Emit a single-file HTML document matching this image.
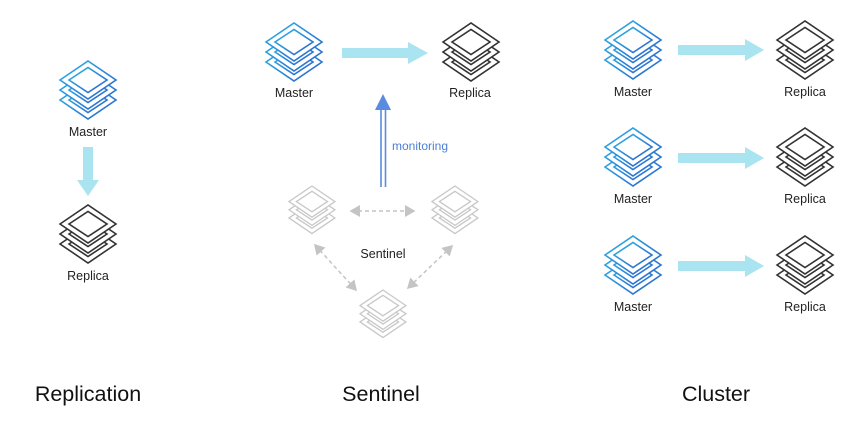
<!DOCTYPE html>
<html><head><meta charset="utf-8"><style>
body{margin:0;width:866px;height:423px;background:#fff;overflow:hidden;font-family:"Liberation Sans","DejaVu Sans",sans-serif}
</style></head><body>
<svg width="866" height="423" xmlns="http://www.w3.org/2000/svg" style="position:absolute;left:0;top:0">
<defs>
<linearGradient id="bg" x1="0" y1="0" x2="1" y2="1"><stop offset="0" stop-color="#30b4e6"/><stop offset="1" stop-color="#2a62cc"/></linearGradient>
<g id="lay"><polygon points="0,19 28,0 56,19 28,38" fill="#fff" stroke-width="1.6"/><polygon points="9,19 28,6.5 47,19 28,31.5" fill="#fff" stroke-width="1.6"/></g>
<g id="stk"><use href="#lay" y="20"/><use href="#lay" y="10"/><use href="#lay" y="0"/></g>
<marker id="ah" markerWidth="8" markerHeight="8" refX="6" refY="4" orient="auto-start-reverse"><path d="M0,0 L7,4 L0,8 z" fill="#c4c4c4"/></marker>
</defs>
<!-- Replication -->
<g stroke="url(#bg)" transform="translate(60,61)"><use href="#stk"/></g>
<g stroke="#333" transform="translate(60,205)"><use href="#stk"/></g>
<polygon points="83,147 93,147 93,180 99,180 88,196 77,180 83,180" fill="#a9e4f0"/>
<!-- Sentinel -->
<g stroke="url(#bg)" transform="translate(266,23)"><use href="#stk"/></g>
<g stroke="#333" transform="translate(443,23)"><use href="#stk"/></g>
<polygon points="342,48 408,48 408,42 428,53 408,64 408,58 342,58" fill="#a9e4f0"/>
<line x1="381" y1="187" x2="381" y2="108" stroke="#5a8be0" stroke-width="1.6"/>
<line x1="385.5" y1="187" x2="385.5" y2="108" stroke="#5a8be0" stroke-width="1.6"/>
<polygon points="375,110 383,94 391,110" fill="#5a8be0"/>
<g stroke="#c8c8c8" transform="translate(289,186) scale(0.82)"><use href="#stk"/></g>
<g stroke="#c8c8c8" transform="translate(432,186) scale(0.82)"><use href="#stk"/></g>
<g stroke="#c8c8c8" transform="translate(360,290) scale(0.82)"><use href="#stk"/></g>
<g stroke="#c4c4c4" stroke-width="1.5" stroke-dasharray="4,3" fill="none">
<line x1="351" y1="211" x2="414" y2="211" marker-start="url(#ah)" marker-end="url(#ah)"/>
<line x1="315" y1="245" x2="356" y2="290" marker-start="url(#ah)" marker-end="url(#ah)"/>
<line x1="452" y1="246" x2="408" y2="288" marker-start="url(#ah)" marker-end="url(#ah)"/>
</g>
<!-- Cluster -->
<g stroke="url(#bg)" transform="translate(605,21)"><use href="#stk"/></g>
<g stroke="url(#bg)" transform="translate(605,128)"><use href="#stk"/></g>
<g stroke="url(#bg)" transform="translate(605,236)"><use href="#stk"/></g>
<g stroke="#333" transform="translate(777,21)"><use href="#stk"/></g>
<g stroke="#333" transform="translate(777,128)"><use href="#stk"/></g>
<g stroke="#333" transform="translate(777,236)"><use href="#stk"/></g>
<polygon points="678,45 745,45 745,39 764,50 745,61 745,55 678,55" fill="#a9e4f0"/>
<polygon points="678,153 745,153 745,147 764,158 745,169 745,163 678,163" fill="#a9e4f0"/>
<polygon points="678,261 745,261 745,255 764,266 745,277 745,271 678,271" fill="#a9e4f0"/>
<g font-family="Liberation Sans, DejaVu Sans, sans-serif" font-size="12.5" fill="#222" text-anchor="middle">
<text x="88" y="136">Master</text><text x="88" y="280">Replica</text>
<text x="294" y="97">Master</text><text x="470" y="97">Replica</text>
<text x="383" y="258">Sentinel</text>
<text x="633" y="96">Master</text><text x="633" y="203">Master</text><text x="633" y="311">Master</text>
<text x="805" y="96">Replica</text><text x="805" y="203">Replica</text><text x="805" y="311">Replica</text>
</g>
<text x="392" y="150" font-size="12" fill="#4a7fd8" font-family="Liberation Sans, DejaVu Sans, sans-serif">monitoring</text>
<g font-family="Liberation Sans, DejaVu Sans, sans-serif" font-size="21.5" fill="#111" text-anchor="middle">
<text x="88" y="401">Replication</text><text x="381" y="401">Sentinel</text><text x="716" y="401">Cluster</text>
</g>
</svg>
</body></html>
